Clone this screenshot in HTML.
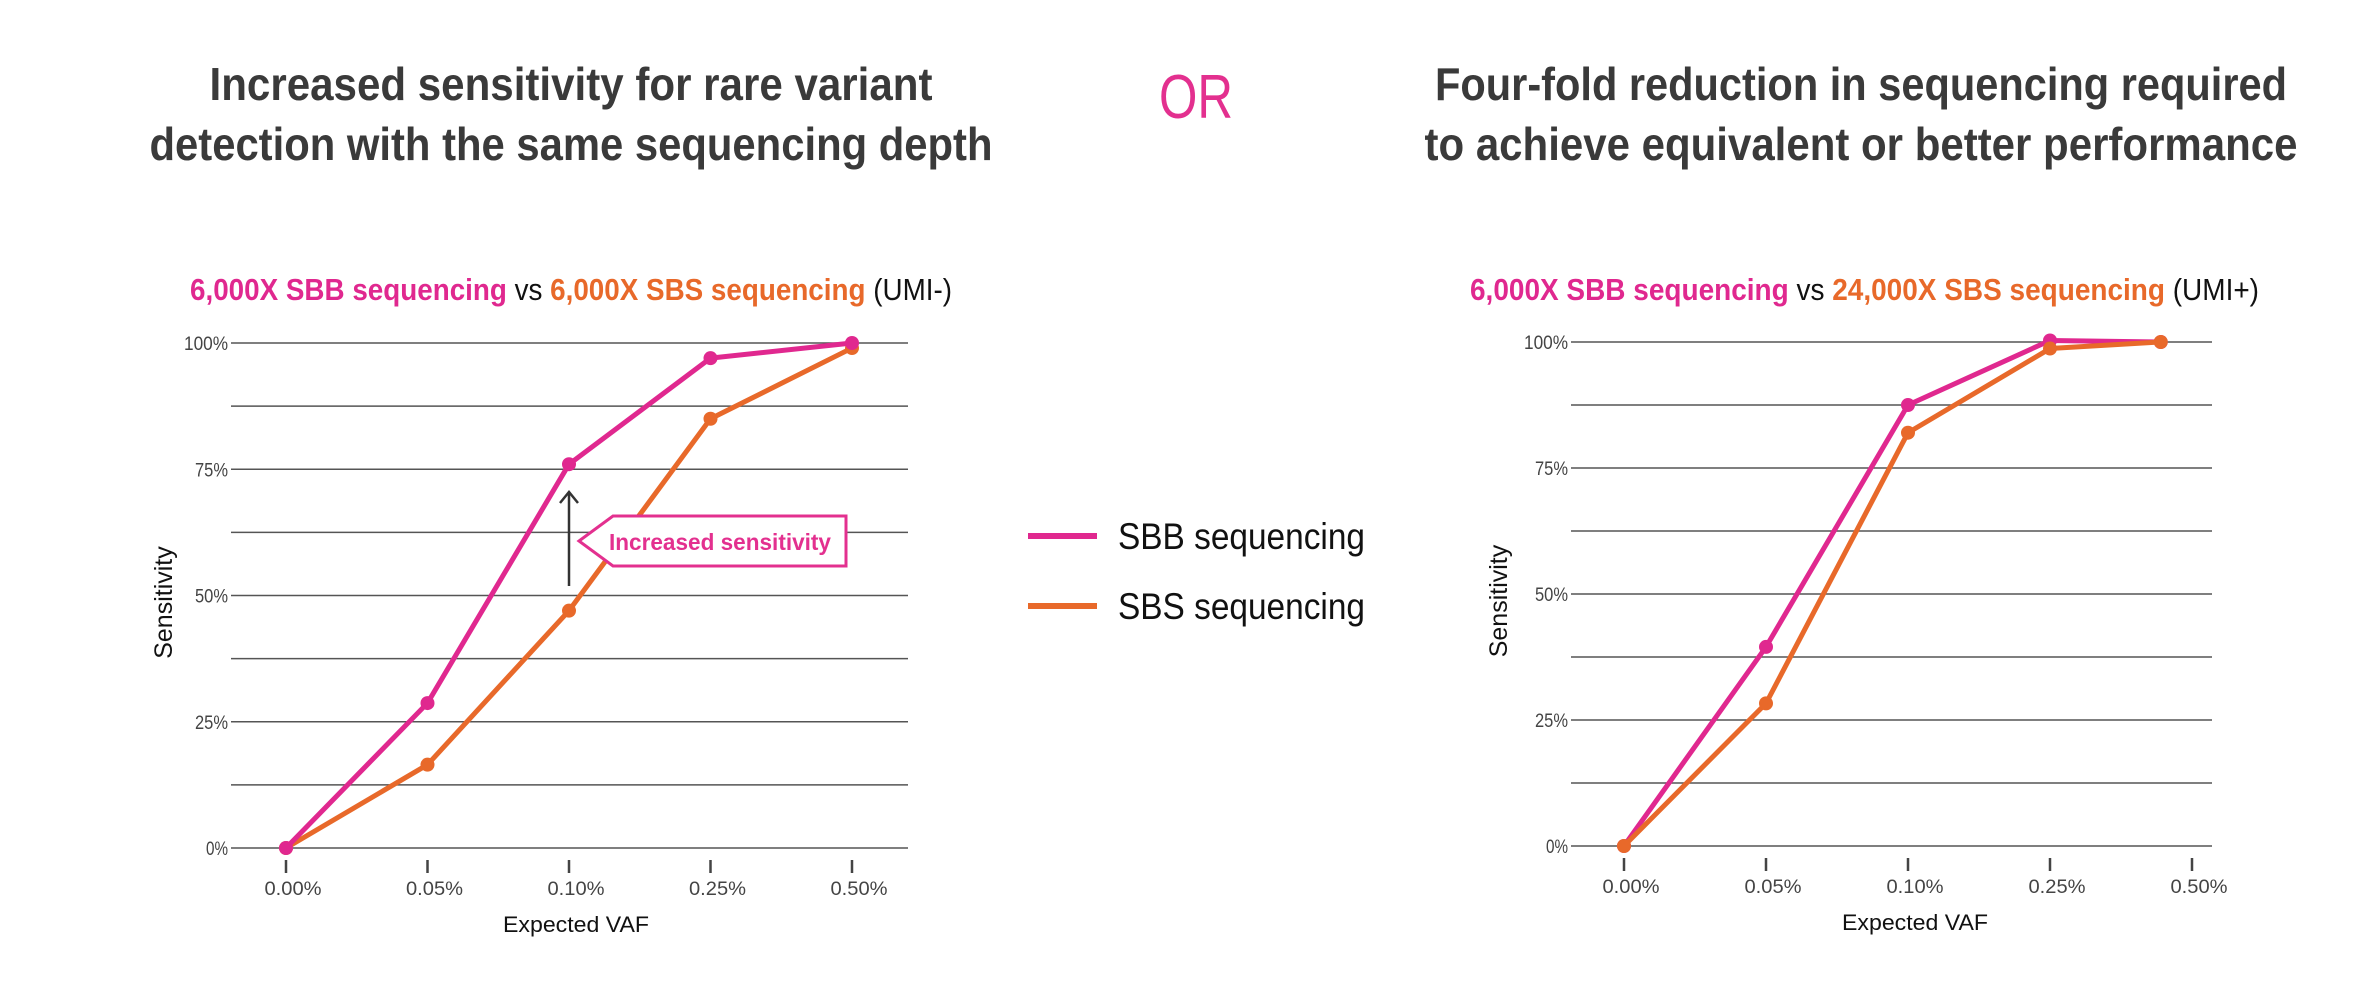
<!DOCTYPE html>
<html><head><meta charset="utf-8"><style>
html,body{margin:0;padding:0;background:#fff;}
svg{display:block;font-family:"Liberation Sans",sans-serif;}
</style></head><body>
<svg id="root" width="2370" height="984" viewBox="0 0 2370 984">
  <g font-weight="bold" fill="#3a3a3a" font-size="46" text-anchor="middle">
    <text x="571" y="100" textLength="723" lengthAdjust="spacingAndGlyphs">Increased sensitivity for rare variant</text>
    <text x="571" y="160" textLength="843" lengthAdjust="spacingAndGlyphs">detection with the same sequencing depth</text>
  </g>
  <text x="1196" y="118" font-size="62" fill="#e3308f" text-anchor="middle" textLength="74" lengthAdjust="spacingAndGlyphs">OR</text>
  <g font-weight="bold" fill="#3a3a3a" font-size="46" text-anchor="middle">
    <text x="1861" y="100" textLength="852" lengthAdjust="spacingAndGlyphs">Four-fold reduction in sequencing required</text>
    <text x="1861" y="160" textLength="873" lengthAdjust="spacingAndGlyphs">to achieve equivalent or better performance</text>
  </g>
  <text x="190" y="300" font-size="31" textLength="762" lengthAdjust="spacingAndGlyphs"><tspan fill="#e0288f" font-weight="bold">6,000X SBB sequencing</tspan><tspan fill="#111"> vs </tspan><tspan fill="#e8692a" font-weight="bold">6,000X SBS sequencing</tspan><tspan fill="#111"> (UMI-)</tspan></text>
  <text x="1470" y="300" font-size="31" textLength="789" lengthAdjust="spacingAndGlyphs"><tspan fill="#e0288f" font-weight="bold">6,000X SBB sequencing</tspan><tspan fill="#111"> vs </tspan><tspan fill="#e8692a" font-weight="bold">24,000X SBS sequencing</tspan><tspan fill="#111"> (UMI+)</tspan></text>
  <g id="leftChart"></g>
  <g id="rightChart"></g>
  <g>
    <line x1="569" y1="586" x2="569" y2="492" stroke="#333" stroke-width="2.5"/>
    <polyline points="560,503 569,492 578,503" fill="none" stroke="#333" stroke-width="2.5"/>
    <polygon points="579,541 613,516 846,516 846,566 613,566" fill="#fff" stroke="#e3308f" stroke-width="3"/>
    <text x="720" y="550" font-size="23" font-weight="bold" fill="#e3308f" text-anchor="middle" textLength="222" lengthAdjust="spacingAndGlyphs">Increased sensitivity</text>
  </g>
  <g>
    <g>
      <line x1="1028" y1="536" x2="1097" y2="536" stroke="#e0288f" stroke-width="6"/>
      <text x="1118" y="549" font-size="37" fill="#111" textLength="247" lengthAdjust="spacingAndGlyphs">SBB sequencing</text>
    </g>
    <g>
      <line x1="1028" y1="606" x2="1097" y2="606" stroke="#e8692a" stroke-width="6"/>
      <text x="1118" y="619" font-size="37" fill="#111" textLength="247" lengthAdjust="spacingAndGlyphs">SBS sequencing</text>
    </g>
  </g>
</svg>
<script>
const categories = ["0.00%","0.05%","0.10%","0.25%","0.50%"];
const yTickLabels = ["0%","25%","50%","75%","100%"];
const yTickValues = [0,25,50,75,100];
const leftX = [0,1,2,3,4];
const leftSBB = [0,28.7,76,97,100];
const leftSBS = [0,16.5,47,85,99];
const rightXSBB = [0,1,2,3,3.78];
const rightXSBS = [0,1,2,3,3.78];
const rightSBB = [0,39.5,87.5,100.3,100];
const rightSBS = [0,28.3,82,98.7,100];

const NS = "http://www.w3.org/2000/svg";
function mk(tag, attrs, parent){const e=document.createElementNS(NS,tag);for(const k in attrs)e.setAttribute(k,attrs[k]);parent.appendChild(e);return e;}

function drawChart(g, cfg){
  const xs = i => cfg.x0 + i*cfg.dx;
  const ys = v => cfg.yBottom - v/100*(cfg.yBottom-cfg.yTop);
  for(let k=0;k<=8;k++){
    const v=k*12.5;
    const l=mk('line',{x1:cfg.gx1,x2:cfg.gx2,y1:ys(v),y2:ys(v),stroke:'#555','stroke-width':1.6},g);
    
    
  }
  yTickLabels.forEach((t,i)=>{
    const e=mk('text',{x:cfg.gx1-3,y:ys(yTickValues[i])+7,'font-size':19,fill:'#444','text-anchor':'end',textLength:t.length*11,lengthAdjust:'spacingAndGlyphs'},g);
    e.textContent=t;
    
    
  });
  categories.forEach((c,i)=>{
    const tk=mk('line',{x1:xs(i),x2:xs(i),y1:cfg.yBottom+12,y2:cfg.yBottom+25,stroke:'#444','stroke-width':2.5},g);
    
    
    const e=mk('text',{x:xs(i)+7,y:cfg.yBottom+47,'font-size':19,fill:'#444','text-anchor':'middle',textLength:57,lengthAdjust:'spacingAndGlyphs'},g);
    e.textContent=c;
    
    
  });
  const xt=mk('text',{x:(xs(0)+xs(4))/2+7,y:cfg.yBottom+84,'font-size':22,fill:'#111','text-anchor':'middle',textLength:146,lengthAdjust:'spacingAndGlyphs'},g);
  xt.textContent='Expected VAF';
  
  
  const cy=(cfg.yTop+cfg.yBottom)/2+7;
  const yt=mk('text',{x:cfg.yTitleX,y:cy,'font-size':25,fill:'#111','text-anchor':'middle',transform:`rotate(-90 ${cfg.yTitleX} ${cy})`},g);
  yt.textContent='Sensitivity';
  
  
  cfg.series.forEach(s=>{
    const sg=mk('g',{},g);
    
    
    const pts=s.vals.map((v,i)=>xs(s.xs[i])+','+ys(v)).join(' ');
    const pl=mk('polyline',{points:pts,fill:'none',stroke:s.color,'stroke-width':5,'stroke-linejoin':'round'},sg);
    
    
    s.vals.forEach((v,i)=>{
      const c=mk('circle',{cx:xs(s.xs[i]),cy:ys(v),r:7,fill:s.color},sg);
      
      
    });
  });
}
drawChart(document.getElementById('leftChart'),{x0:286,dx:141.5,yTop:343,yBottom:848,gx1:231,gx2:908,yTitleX:172,
  series:[{name:'sbs-series',vals:leftSBS,xs:leftX,color:'#e8692a'},{name:'sbb-series',vals:leftSBB,xs:leftX,color:'#e0288f'}]});
drawChart(document.getElementById('rightChart'),{x0:1624,dx:142,yTop:342,yBottom:846,gx1:1571,gx2:2212,yTitleX:1507,
  series:[{name:'sbb-series',vals:rightSBB,xs:rightXSBB,color:'#e0288f'},{name:'sbs-series',vals:rightSBS,xs:rightXSBS,color:'#e8692a'}]});
</script>
</body></html>
